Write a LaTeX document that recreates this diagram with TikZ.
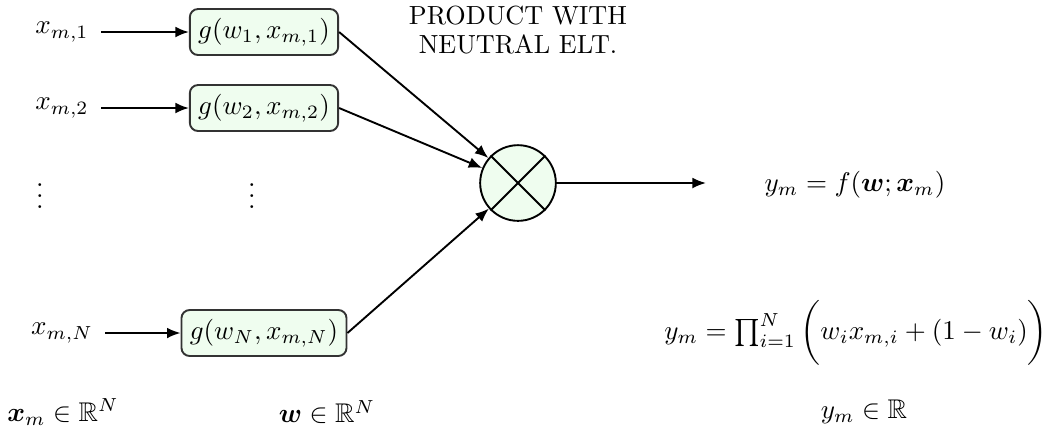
\documentclass[tikz,border=0pt]{standalone}
\usepackage{amssymb}
\usepackage{amsmath}
\usepackage{bm}
\usepackage{graphicx}
\usepackage[no-math]{fontspec}
\usetikzlibrary{arrows.meta}
\definecolor{boxfill}{HTML}{EFFDEF}
\definecolor{boxdraw}{HTML}{333333}
\begin{document}
\begin{tikzpicture}[x=0.37pt,y=-0.37pt,
  fbox/.style={draw=boxdraw,fill=boxfill,rounded corners=3pt,line width=0.7pt,inner xsep=3.1pt,inner ysep=2pt,minimum height=17pt},
  inlab/.style={inner sep=0pt},
  conn/.style={-{Latex[length=5pt,width=4pt]},line width=0.7pt},
  prodnode/.style={circle,draw,fill=boxfill,line width=0.7pt,minimum size=28pt,inner sep=0pt}]
\useasboundingbox (0,0) rectangle (1047,428);
\node[inlab] (x1) at (62,32) {$x_{m,1}$};
\node[inlab] (x2) at (62,108) {$x_{m,2}$};
\node[inlab] (xN) at (62,333) {$x_{m,N}$};
\node[inlab] (d1) at (40,188) {$\vdots$};
\node[inlab] (d2) at (252,188) {$\vdots$};
\node[fbox] (g1) at (264,32) {$g(w_1,x_{m,1})$};
\node[fbox] (g2) at (264,108) {$g(w_2,x_{m,2})$};
\node[fbox] (gN) at (264,333) {$g(w_N,x_{m,N})$};
\node[prodnode] (p) at (518,183) {};
\draw[line width=0.7pt] (p.north west) -- (p.south east) (p.north east) -- (p.south west);
\node[inner sep=0pt] (lab) at (518,33) {\scalebox{0.97}{\renewcommand\arraystretch{0.95}\begin{tabular}{@{}c@{}}PRODUCT WITH\\NEUTRAL ELT.\end{tabular}}};
\coordinate (out) at (706,183);
\node[inlab] (y) at (855,185) {$y_m=f(\bm{w};\bm{x}_m)$};
\node[inlab] (formula) at (856,333) {$y_m=\prod_{i=1}^{N}\bigg(w_ix_{m,i}+(1-w_i)\bigg)$};
\node[inlab] (xs) at (63,412) {$\bm{x}_m\in\mathbb{R}^N$};
\node[inlab] (ws) at (327,412) {$\bm{w}\in\mathbb{R}^N$};
\node[inlab] (ys) at (864,412) {$y_m\in\mathbb{R}$};
\draw[conn] (x1.east) ++(4.4pt,0) -- (g1.west);
\draw[conn] (x2.east) ++(4.4pt,0) -- (g2.west);
\draw[conn] (xN.east) ++(4.4pt,0) -- (gN.west);
\draw[conn] (g1.east) -- (p);
\draw[conn] (g2.east) -- (p);
\draw[conn] (gN.east) -- (p);
\draw[conn] (p) -- (out);
\end{tikzpicture}
\end{document}
